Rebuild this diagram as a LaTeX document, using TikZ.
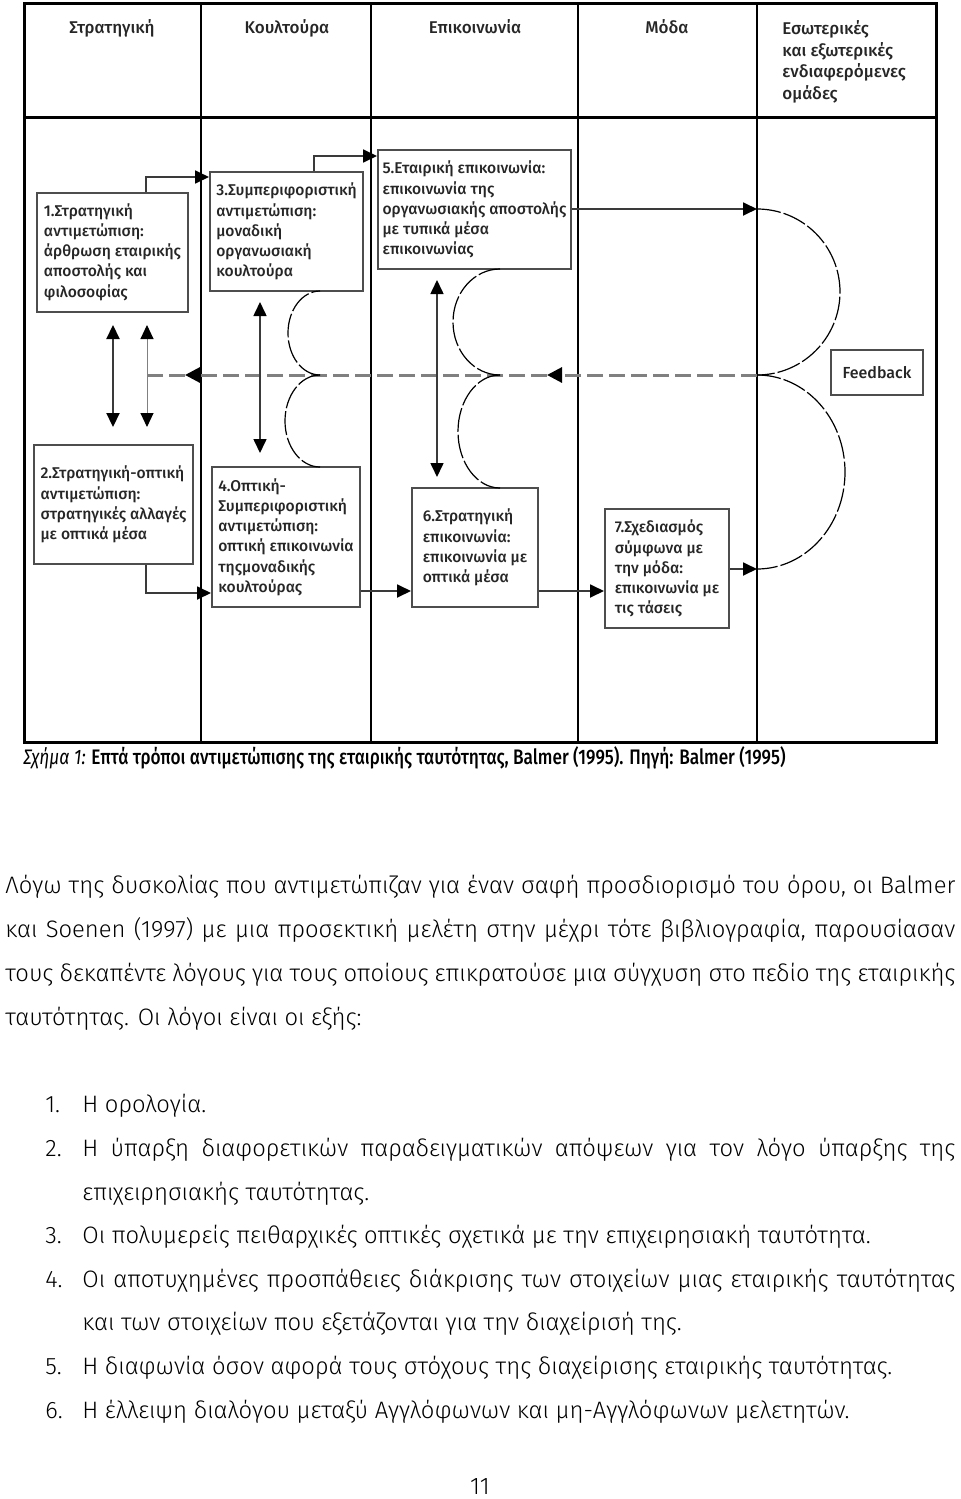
\documentclass[tikz,border=0pt]{standalone}
\usepackage{fontspec}
\setmainfont{Fira Sans}
\newfontfamily\diagfont{Fira Sans Medium}
\newfontfamily\bodyfont{Fira Sans Light}
\newfontfamily\capfont{Fira Sans Medium}[FakeStretch=0.82,ItalicFont={Fira Sans Italic}]
\usetikzlibrary{arrows.meta,positioning}
\definecolor{boxgray}{HTML}{4D4D4D}
\definecolor{linegray}{HTML}{3A3A3A}
\definecolor{fbgray}{HTML}{808080}
\tikzset{
  stage/.style={draw=boxgray, line width=1pt, fill=white, inner sep=0pt, align=left,
    font=\diagfont\fontsize{7.8}{10.1}\selectfont, text=black!85, minimum height=59.5pt},
  colhead/.style={font=\diagfont\fontsize{8.5}{10.9}\selectfont, inner sep=0pt, text=black!85},
  tip/.style={Triangle[length=7pt,width=6.5pt,color=black]},
  flow/.style={draw=linegray, line width=0.9pt, -{Triangle[length=7pt,width=6.5pt,color=black]}},
  twoway/.style={draw=linegray, line width=0.8pt,
    {Triangle[length=7pt,width=6.5pt,color=black]}-{Triangle[length=7pt,width=6.5pt,color=black]}},
  loopline/.style={draw=black, line width=0.6pt, dash pattern=on 12pt off 1.5pt},
  feedline/.style={draw=fbgray, line width=1.5pt, dash pattern=on 8pt off 3pt},
  bodytext/.style={font=\bodyfont\fontsize{11.9}{22}\selectfont, inner sep=0pt, align=left, anchor=base west}
}
\newcommand{\jline}[2]{\makebox[#1][s]{#2}}

\begin{document}
\begin{tikzpicture}[x=0.5pt, y=-0.5pt]
  \useasboundingbox (0,0) rectangle (960,1499);
  % table
  \draw[line width=1.5pt] (24,3) rectangle (936,742);
  \draw[line width=1.5pt] (24,117) -- (936,117);
  \foreach \cx in {201,371,578,757}
    \draw[line width=1.2pt] (\cx,3) -- (\cx,742);

  \node[colhead, anchor=base] (hstrat) at (112,33) {Στρατηγική};
  \node[colhead, anchor=base] (hcult) at (287,33) {Κουλτούρα};
  \node[colhead, anchor=base] (hcomm) at (475,33) {Επικοινωνία};
  \node[colhead, anchor=base] (hfash) at (667,33) {Μόδα};
  \node[colhead, anchor=north west, align=left] (hgroup) at (782,20)
    {Εσωτερικές\\και εξωτερικές\\ενδιαφερόμενες\\ομάδες};

  % stages
  \node[stage, minimum width=75.5pt] (b1) at (112.5,252)
    {1.Στρατηγική\\αντιμετώπιση:\\άρθρωση εταιρικής\\αποστολής και\\φιλοσοφίας};
  \node[stage, minimum width=76.5pt] (b3) at (286.5,231.5)
    {3.Συμπεριφοριστική\\αντιμετώπιση:\\μοναδική\\οργανωσιακή\\κουλτούρα};
  \node[stage, minimum width=96.5pt] (b5) at (474.5,209.5)
    {5.Εταιρική επικοινωνία:\\επικοινωνία της\\οργανωσιακής αποστολής\\με τυπικά μέσα\\επικοινωνίας};
  \node[stage, minimum width=79.5pt] (b2) at (113.5,504.5)
    {2.Στρατηγική-οπτική\\αντιμετώπιση:\\στρατηγικές αλλαγές\\με οπτικά μέσα};
  \node[stage, minimum width=74pt, minimum height=70pt] (b4) at (286,537)
    {4.Οπτική-\\Συμπεριφοριστική\\αντιμετώπιση:\\οπτική επικοινωνία\\τηςμοναδικής\\κουλτούρας};
  \node[stage, minimum width=63pt] (b6) at (475,547.5)
    {6.Στρατηγική\\επικοινωνία:\\επικοινωνία με\\οπτικά μέσα};
  \node[stage, minimum width=62pt] (b7) at (667,568.5)
    {7.Σχεδιασμός\\σύμφωνα με\\την μόδα:\\επικοινωνία με\\τις τάσεις};
  \node[stage, minimum width=46pt, minimum height=22.5pt, align=center,
    font=\diagfont\fontsize{8}{10}\selectfont] (fb) at (877,372.5) {Feedback};

  \coordinate (topin) at (757,209);
  \coordinate (cuspR) at (757,375);
  \coordinate (botin) at (757,569);
  \coordinate (cuspA) at (320,375);
  \coordinate (cuspB) at (500,375);
  \coordinate (fbmid) at (547,375);
  \coordinate (fbleft) at (185,375);
  \coordinate (fbend) at (147,375);
  \coordinate (s1t) at (113,325);
  \coordinate (s1b) at (113,427);
  \coordinate (v1t) at (147,325);
  \coordinate (v1b) at (147,427);
  \coordinate (c2t) at (260,302);
  \coordinate (c2b) at (260,453);
  \coordinate (c3t) at (437,280);
  \coordinate (c3b) at (437,477);

  % feedback loop
  \draw[feedline, -{Triangle[length=7.5pt,width=7.5pt,color=black]}] (cuspR) -- (fbmid);
  \draw[feedline, -{Triangle[length=7.5pt,width=7.5pt,color=black]}] (fbmid) -- (fbleft);
  \draw[feedline] (fbleft) -- (fbend);
  \draw[loopline] (topin) arc[start angle=90, end angle=-90, x radius=41.5pt, y radius=41.5pt];
  \draw[loopline] (cuspR) arc[start angle=90, end angle=-90, x radius=44pt, y radius=48.5pt];
  \draw[loopline] (cuspB) arc[start angle=270, end angle=90, x radius=23.5pt, y radius=26.5pt];
  \draw[loopline] (cuspB) arc[start angle=90, end angle=270, x radius=21pt, y radius=28.25pt];
  \draw[loopline] (cuspA) arc[start angle=270, end angle=90, x radius=16pt, y radius=21pt];
  \draw[loopline] (cuspA) arc[start angle=90, end angle=270, x radius=17.5pt, y radius=23pt];

  % arrows
  \draw[flow] ([xshift=55pt]b1.north west) |- ([yshift=-3pt]b3.north west);
  \draw[flow] ([xshift=52.5pt]b3.north west) |- ([yshift=-3.5pt]b5.north west);
  \draw[flow] (b5.east |- topin) -- (topin);
  \draw[flow] ([xshift=56.5pt]b2.south west) |- ([yshift=7.5pt]b4.south west);
  \draw[flow] ([yshift=8.5pt]b4.south east) -- ([yshift=8.5pt]b6.south west);
  \draw[flow] ([yshift=8.5pt]b6.south east) -- ([yshift=8.5pt]b6.south east -| b7.west);
  \draw[flow] (b7.east |- botin) -- (botin);
  \draw[twoway, line width=1.1pt] (s1t) -- (s1b);
  \draw[twoway, draw=fbgray, line width=0.5pt] (v1t) -- (v1b);
  \draw[twoway] (c2t) -- (c2b);
  \draw[twoway] (c3t) -- (c3b);

  % caption and text
  \node[font=\capfont\fontsize{10.5}{12}\selectfont, anchor=base west, inner sep=0pt] (cap) at (23,764)
    {\textit{Σχήμα 1:} Επτά τρόποι αντιμετώπισης της εταιρικής ταυτότητας, Balmer (1995). Πηγή: Balmer (1995)};
  \node[bodytext] (para) at (5,1025)
    {\jline{475pt}{Λόγω της δυσκολίας που αντιμετώπιζαν για έναν σαφή προσδιορισμό του όρου, οι Balmer}\\
     \jline{475pt}{και Soenen (1997) με μια προσεκτική μελέτη στην μέχρι τότε βιβλιογραφία, παρουσίασαν}\\
     \jline{475pt}{τους δεκαπέντε λόγους για τους οποίους επικρατούσε μια σύγχυση στο πεδίο της εταιρικής}\\
     ταυτότητας. Οι λόγοι είναι οι εξής:};
  \node[bodytext, font=\bodyfont\fontsize{11.9}{21.8}\selectfont] (list) at (45,1418)
    {\makebox[18.5pt][l]{1.}Η ορολογία.\\
     \makebox[18.5pt][l]{2.}\jline{436.5pt}{Η ύπαρξη διαφορετικών παραδειγματικών απόψεων για τον λόγο ύπαρξης της}\\
     \hspace*{18.5pt}επιχειρησιακής ταυτότητας.\\
     \makebox[18.5pt][l]{3.}Οι πολυμερείς πειθαρχικές οπτικές σχετικά με την επιχειρησιακή ταυτότητα.\\
     \makebox[18.5pt][l]{4.}\jline{436.5pt}{Οι αποτυχημένες προσπάθειες διάκρισης των στοιχείων μιας εταιρικής ταυτότητας}\\
     \hspace*{18.5pt}και των στοιχείων που εξετάζονται για την διαχείρισή της.\\
     \makebox[18.5pt][l]{5.}Η διαφωνία όσον αφορά τους στόχους της διαχείρισης εταιρικής ταυτότητας.\\
     \makebox[18.5pt][l]{6.}Η έλλειψη διαλόγου μεταξύ Αγγλόφωνων και μη-Αγγλόφωνων μελετητών.};
  \node[font=\bodyfont\fontsize{12}{14}\selectfont, anchor=base, inner sep=0pt] (pnum) at (480,1494) {11};
\end{tikzpicture}
\end{document}
